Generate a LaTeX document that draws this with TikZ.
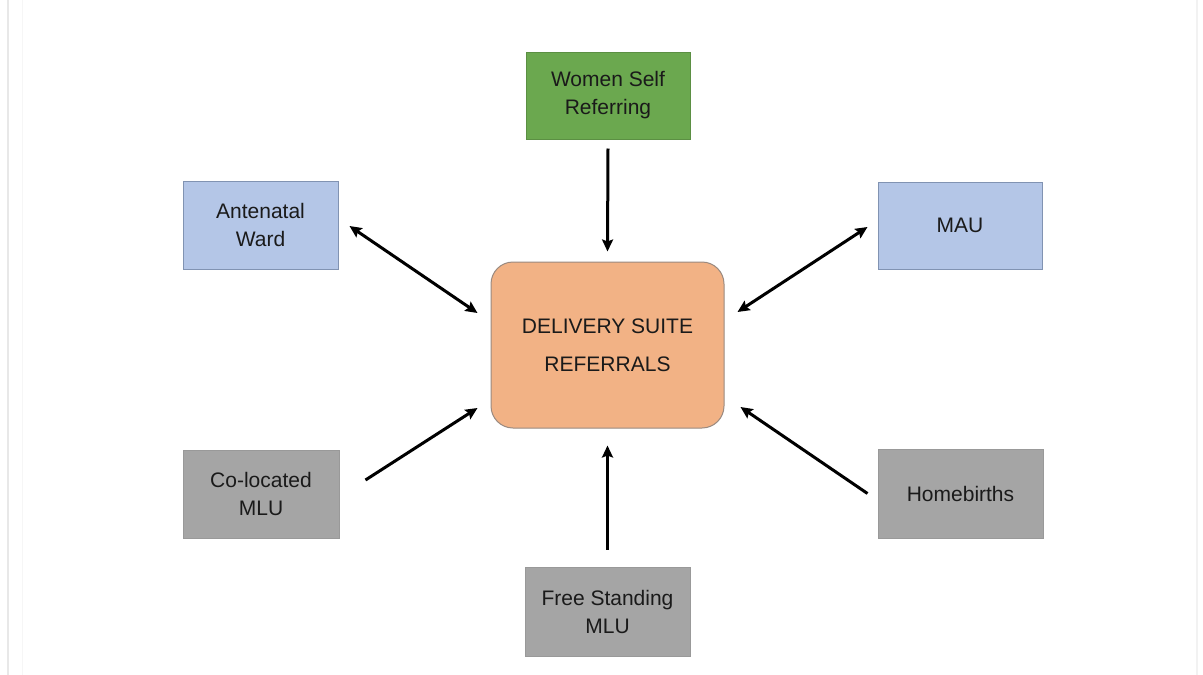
\documentclass[tikz,border=0pt]{standalone}
\usepackage{fontspec}
\setmainfont{Liberation Sans}
\usetikzlibrary{arrows.meta}
\definecolor{boxgreen}{HTML}{6BA84F}
\definecolor{boxblue}{HTML}{B4C6E7}
\definecolor{blueedge}{HTML}{8193B2}
\definecolor{boxgray}{HTML}{A5A5A5}
\definecolor{grayedge}{HTML}{999999}
\definecolor{boxorange}{HTML}{F2B285}
\definecolor{orangeedge}{HTML}{9A8A80}
\definecolor{inktext}{HTML}{1A1A1A}
\tikzset{
  unit/.style={draw, line width=1pt, inner sep=2pt, align=center,
    font=\fontsize{21}{28}\selectfont, text=inktext},
  greenbox/.style={unit, fill=boxgreen, draw=boxgreen!85!black},
  bluebox/.style={unit, fill=boxblue, draw=blueedge},
  graybox/.style={unit, fill=boxgray, draw=grayedge},
  hubbox/.style={unit, fill=boxorange, draw=orangeedge, rounded corners=22pt,
    font=\fontsize{21}{38}\selectfont},
  link/.style={line width=3pt, draw=black,
    -{Stealth[length=12pt,width=11pt,inset=2pt]}},
  twoway/.style={link, {Stealth[length=12pt,width=11pt,inset=2pt]}-{Stealth[length=12pt,width=11pt,inset=2pt]}}
}
\begin{document}
\begin{tikzpicture}[x=1pt,y=-1pt]
  \useasboundingbox (0,0) rectangle (1203,675);
  \fill[white] (0,0) rectangle (1203,675);
  % faint page edges
  \draw[gray!18, line width=1.5pt] (8,0) -- (8,675);
  \draw[gray!7, line width=1pt] (22,0) -- (22,675);
  \draw[gray!10, line width=1.5pt] (1197,0) -- (1197,675);

  % units around the hub
  \node[hubbox, minimum width=233pt, minimum height=166pt] (hub) at (607.5,345)
    {DELIVERY SUITE\\REFERRALS};
  \node[greenbox, minimum width=164pt, minimum height=87pt] (self) at (608,95.5)
    {Women Self\\Referring};
  \node[bluebox, minimum width=155pt, minimum height=88pt] (ante) at (260.5,225)
    {Antenatal\\Ward};
  \node[bluebox, minimum width=164pt, minimum height=87pt] (mau) at (960,225.5)
    {MAU};
  \node[graybox, minimum width=156pt, minimum height=88pt] (colo) at (261,494)
    {Co-located\\MLU};
  \node[graybox, minimum width=165pt, minimum height=89pt] (home) at (960.5,493.5)
    {Homebirths};
  \node[graybox, minimum width=165pt, minimum height=89pt] (free) at (607.5,611.5)
    {Free Standing\\MLU};

  % referral routes
  \draw[link] ([yshift=-9pt]self.south) -- ([yshift=10pt]hub.north);
  \draw[link] ([yshift=17pt]free.north) -- ([yshift=-17pt]hub.south);
  \draw[twoway] ([xshift=11pt,yshift=-1pt]ante.east) -- ([xshift=-13pt,yshift=32pt]hub.west);
  \draw[twoway] ([xshift=-10pt,yshift=-1.5pt]mau.west) -- ([xshift=13pt,yshift=33pt]hub.east);
  \draw[link] ([xshift=26pt,yshift=14pt]colo.east) -- ([xshift=-13pt,yshift=-63pt]hub.west);
  \draw[link] ([xshift=-10pt]home.west) -- ([xshift=16pt,yshift=-62pt]hub.east);
\end{tikzpicture}
\end{document}
